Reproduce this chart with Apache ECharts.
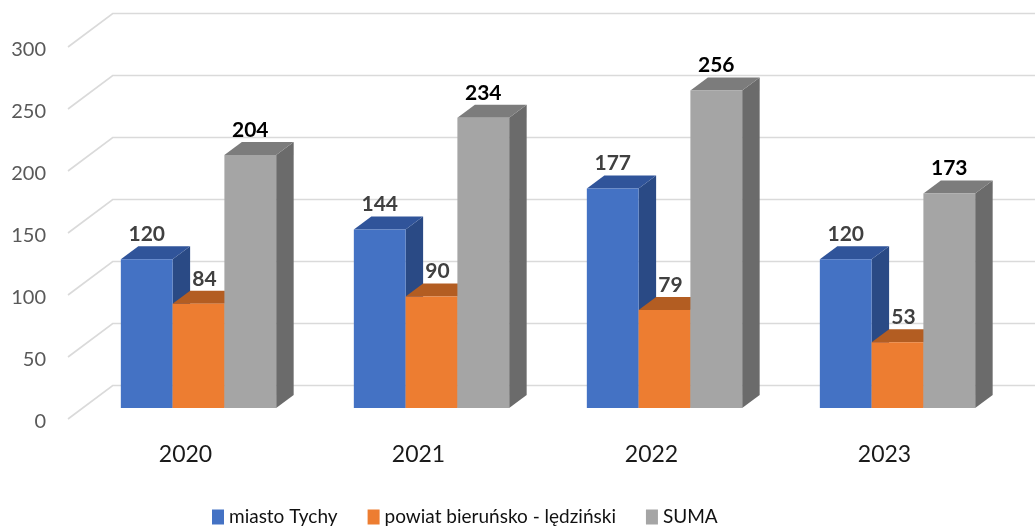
<!DOCTYPE html>
<html><head><meta charset="utf-8">
<style>html,body{margin:0;padding:0;background:#fff}#c{width:1035px;height:530px}</style>
<script src="https://cdn.jsdelivr.net/npm/echarts@6/dist/echarts.min.js"></script>
</head><body><div id="c"></div>
<script>
const categories = ['2020','2021','2022','2023'];
const seriesNames = ['miasto Tychy','powiat bieruńsko - lędziński','SUMA'];
const tychy = [120,144,177,120];
const powiat = [84,90,79,53];
const suma = [204,234,256,173];
const yTicks = [0,50,100,150,200,250,300];

const FONT = 'Lato';
const BAR_DX = 17.5, BAR_DY = -13;
const WALL_FRONT = -14, WALL_BACK = 30.7, WALL_DY_FRONT = 11, WALL_DY_BACK = -22.5;

const palette = [
  {front:'#4472C4', top:'#30549A', side:'#2A4A85', label:'#404040', dx:0},
  {front:'#ED7D31', top:'#B35D22', side:'#A85A23', label:'#404040', dx:6},
  {front:'#A5A5A5', top:'#7C7C7C', side:'#6B6B6B', label:'#000000', dx:0}
];

function barRender(si){
  return function(params, api){
    const p = api.coord([api.value(0), api.value(1)]);
    const base = api.coord([api.value(0), 0]);
    const band = api.size([1,0])[0];
    const w = band/4.5;
    const x0 = p[0] + (si-1.5)*w, x1 = x0+w, yt = p[1], yb = base[1];
    const c = palette[si];
    const poly = (pts,fill)=>({type:'polygon',shape:{points:pts},style:{fill:fill},silent:true});
    return {type:'group',children:[
      poly([[x1,yt],[x1+BAR_DX,yt+BAR_DY],[x1+BAR_DX,yb+BAR_DY],[x1,yb]],c.side),
      poly([[x0,yt],[x0+BAR_DX,yt+BAR_DY],[x1+BAR_DX,yt+BAR_DY],[x1,yt]],c.top),
      {type:'rect',shape:{x:x0,y:yt,width:w,height:yb-yt},style:{fill:c.front},silent:true},
      {type:'text',z2:10,silent:true,x:(x0+x1)/2+c.dx,y:yt+BAR_DY-12,
        style:{text:String(api.value(1)),font:'bold 21px '+FONT,fill:c.label,align:'center',verticalAlign:'middle'}}
    ]};
  };
}
function gridRender(params, api){
  const p = api.coord([0, api.value(0)]);
  const left = params.coordSys.x;
  const y = p[1];
  return {type:'polyline',silent:true,
    shape:{points:[[left+WALL_FRONT,y+WALL_DY_FRONT],[left+WALL_BACK,y+WALL_DY_BACK],[api.getWidth(),y+WALL_DY_BACK]]},
    style:{stroke:'#DADADA',lineWidth:1.6,fill:null}};
}
const seriesData = [tychy,powiat,suma];
const chart = echarts.init(document.getElementById('c'),null,{renderer:'canvas'});
chart.setOption({
  animation:false,
  backgroundColor:'#fff',
  grid:{left:82,width:932,top:36,height:372,containLabel:false},
  legend:{left:212,top:505,padding:0,itemWidth:12,itemHeight:15,itemGap:30,
    icon:'rect',selectedMode:false,
    textStyle:{fontFamily:FONT,fontSize:19,color:'#111',lineHeight:24},
    data:seriesNames.map((n,i)=>({name:n,itemStyle:{color:palette[i].front}}))},
  xAxis:{type:'category',data:categories,
    axisLine:{show:false},axisTick:{show:false},splitLine:{show:false},
    axisLabel:{margin:35,fontFamily:FONT,fontSize:23,color:'#1a1a1a',padding:[0,26,0,0]}},
  yAxis:{type:'value',min:0,max:300,interval:50,
    axisLine:{show:false},axisTick:{show:false},splitLine:{show:false},
    axisLabel:{margin:36,fontFamily:FONT,fontSize:20,lineHeight:28,color:'#595959',verticalAlign:'top'}},
  series:[
    {type:'custom',name:'grid',silent:true,z:1,coordinateSystem:'cartesian2d',data:yTicks.map(v=>[v]),encode:{y:0},renderItem:gridRender},
    ...seriesData.map((vals,si)=>({
      type:'custom',name:seriesNames[si],z:2+si,silent:true,coordinateSystem:'cartesian2d',
      itemStyle:{color:palette[si].front},
      encode:{x:0,y:1},
      data:vals.map((v,i)=>[categories[i],v]),
      renderItem:barRender(si)
    }))
  ]
});
</script></body></html>
